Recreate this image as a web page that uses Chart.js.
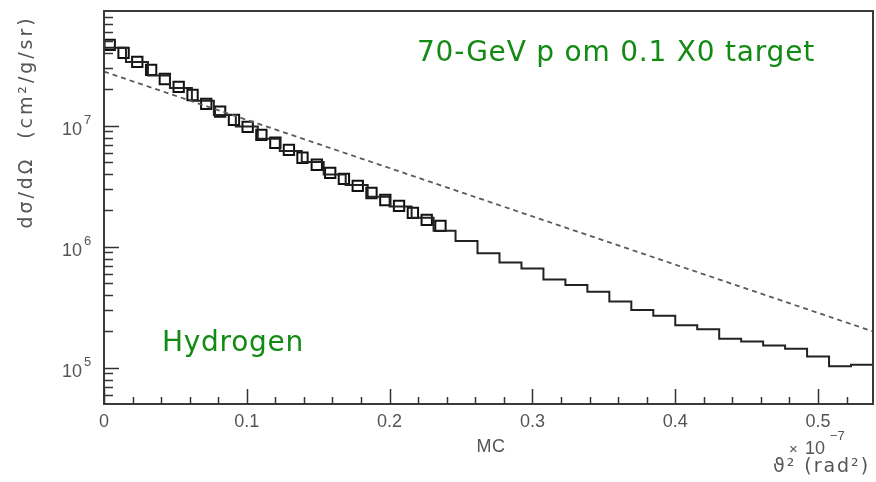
<!DOCTYPE html>
<html>
<head>
<meta charset="utf-8">
<script src="https://cdn.jsdelivr.net/npm/chart.js@4.4.1/dist/chart.umd.min.js"></script>
<style>
    html, body { margin: 0; padding: 0; background: #fff; }
    #chart { display: block; }
</style>
</head>
<body>
<canvas id="chart" width="876" height="482"></canvas>
<script>
// 軸の範囲
const X_MIN = 0;
const X_MAX = 0.5385;
const Y_MIN = 5.03e4;
const Y_MAX = 8.9e7;

// MC ヒストグラム (35 ビン, 左端から)
const BIN_COUNT = 35;
const mcValues = [
    4.42e7, 3.38e7, 2.61e7, 2.06e7, 1.61e7, 1.23e7, 9.9e6, 7.82e6, 6.21e6, 5.04e6,
    3.97e6, 3.25e6, 2.59e6, 2.16e6, 1.74e6, 1.36e6, 1.12e6, 8.87e5, 7.42e5, 6.62e5,
    5.37e5, 4.85e5, 4.25e5, 3.53e5, 3.01e5, 2.70e5, 2.25e5, 2.09e5, 1.74e5, 1.65e5,
    1.53e5, 1.44e5, 1.24e5, 1.03e5, 1.06e5
];

// 測定点 (四角)
const dataX = [
    0.004, 0.0137, 0.0233, 0.033, 0.0426, 0.0523, 0.062, 0.0716, 0.0813, 0.091,
    0.1006, 0.1102, 0.12, 0.1295, 0.139, 0.149, 0.1584, 0.168, 0.1777, 0.1873,
    0.197, 0.2066, 0.2163, 0.226, 0.2356
];
const dataY = [
    4.67e7, 4.01e7, 3.38e7, 2.90e7, 2.44e7, 2.10e7, 1.80e7, 1.52e7, 1.31e7, 1.12e7,
    9.8e6, 8.43e6, 7.25e6, 6.34e6, 5.45e6, 4.77e6, 4.09e6, 3.65e6, 3.19e6, 2.79e6,
    2.44e6, 2.18e6, 1.91e6, 1.67e6, 1.49e6
];

// 破線 (指数関数)
const fitX = [0, 0.5385];
const fitY = [2.81e7, 2.0e5];

// 目盛りラベル
const xTickValues = [0, 0.1, 0.2, 0.3, 0.4, 0.5];
const xTickLabels = ['0', '0.1', '0.2', '0.3', '0.4', '0.5'];
const yTickExponents = [5, 6, 7];

const GRAY = '#555';
const GREEN = '#138a13';

function histPoints() {
    const w = (X_MAX - X_MIN) / BIN_COUNT;
    const pts = mcValues.map((v, i) => ({ x: X_MIN + i * w, y: v }));
    pts.push({ x: X_MAX, y: mcValues[mcValues.length - 1] });
    return pts;
}

// 幅を合わせて文字を描く
function fitText(ctx, text, x, y, width, align) {
    ctx.save();
    ctx.letterSpacing = '0px';
    const base = ctx.measureText(text).width;
    if (base < width) {
        ctx.letterSpacing = ((width - base) / text.length).toFixed(2) + 'px';
        const w2 = ctx.measureText(text).width;
        const left = align === 'center' ? x - w2 / 2 : x;
        ctx.textAlign = 'left';
        ctx.fillText(text, left, y);
    } else {
        const left = align === 'center' ? x - width / 2 : x;
        ctx.translate(left, y);
        ctx.scale(width / base, 1);
        ctx.textAlign = 'left';
        ctx.fillText(text, 0, 0);
    }
    ctx.restore();
}

const rootFrame = {
    id: 'rootFrame',
    afterDatasetsDraw(chart) {
        const { ctx, chartArea: a } = chart;
        const xs = chart.scales.x;
        const ys = chart.scales.y;
        ctx.save();

        // 枠
        ctx.strokeStyle = '#3a3a3a';
        ctx.lineWidth = 2;
        ctx.strokeRect(a.left, a.top, a.right - a.left, a.bottom - a.top);

        // x 目盛り (内向き)
        ctx.lineWidth = 1.5;
        ctx.strokeStyle = '#333';
        for (let k = 0; k <= 26; k++) {
            const v = k * 0.02;
            const px = Math.round(xs.getPixelForValue(v)) + 0.5;
            const len = k % 5 === 0 ? 15 : 7;
            ctx.beginPath();
            ctx.moveTo(px, a.bottom);
            ctx.lineTo(px, a.bottom - len);
            ctx.stroke();
        }

        // y 目盛り (対数)
        for (let d = 4; d <= 7; d++) {
            for (let m = 1; m <= 9; m++) {
                const v = m * Math.pow(10, d);
                if (v < Y_MIN || v > Y_MAX) continue;
                const py = Math.round(ys.getPixelForValue(v)) + 0.5;
                const len = m === 1 ? 15 : 9;
                ctx.beginPath();
                ctx.moveTo(a.left, py);
                ctx.lineTo(a.left + len, py);
                ctx.stroke();
            }
        }

        // x ラベル
        ctx.fillStyle = GRAY;
        ctx.font = '18px "Liberation Sans"';
        ctx.textBaseline = 'middle';
        ctx.textAlign = 'center';
        xTickValues.forEach((v, i) => {
            ctx.fillText(xTickLabels[i], xs.getPixelForValue(v), 422);
        });

        // y ラベル 10^n
        yTickExponents.forEach(e => {
            const py = ys.getPixelForValue(Math.pow(10, e));
            ctx.font = '18px "Liberation Sans"';
            ctx.textAlign = 'right';
            ctx.textBaseline = 'alphabetic';
            ctx.fillText('10', 82, py + 9);
            ctx.font = '13px "Liberation Sans"';
            ctx.textAlign = 'left';
            ctx.fillText(String(e), 84, py - 2);
        });

        // 軸タイトル
        ctx.font = '18px "Liberation Sans"';
        ctx.textBaseline = 'middle';
        fitText(ctx, 'MC', 491, 447, 29, 'center');
        ctx.font = '15px "Liberation Sans"';
        ctx.textAlign = 'left';
        ctx.fillText('×', 789, 450);
        ctx.font = '18px "Liberation Sans"';
        ctx.fillText('10', 805, 449);
        ctx.font = '13px "Liberation Sans"';
        ctx.fillText('−7', 830, 436);
        ctx.font = '19px "DejaVu Sans"';
        fitText(ctx, 'ϑ² (rad²)', 773, 467, 97, 'left');

        ctx.save();
        ctx.translate(27, 122);
        ctx.rotate(-Math.PI / 2);
        ctx.font = '19px "DejaVu Sans"';
        fitText(ctx, 'dσ/dΩ  (cm²/g/sr)', 0, 0, 213, 'center');
        ctx.restore();

        // 緑の注記
        ctx.fillStyle = GREEN;
        ctx.textBaseline = 'alphabetic';
        ctx.font = '28px "DejaVu Sans"';
        fitText(ctx, '70-GeV p om 0.1 X0 target', 417, 61, 398, 'left');
        fitText(ctx, 'Hydrogen', 162, 351, 142, 'left');

        ctx.restore();
    }
};

new Chart(document.getElementById('chart'), {
    type: 'line',
    data: {
        datasets: [
            {
                label: 'fit',
                data: fitX.map((x, i) => ({ x, y: fitY[i] })),
                borderColor: '#5a5a5a',
                borderWidth: 1.8,
                borderDash: [5, 4],
                pointRadius: 0,
                fill: false,
            },
            {
                label: 'MC',
                data: histPoints(),
                borderColor: '#222',
                borderWidth: 2,
                stepped: 'before',
                pointRadius: 0,
                fill: false,
            },
            {
                label: 'data',
                data: dataX.map((x, i) => ({ x, y: dataY[i] })),
                showLine: false,
                pointStyle: 'rect',
                pointRadius: 7.3,
                borderColor: '#111',
                borderWidth: 2,
                backgroundColor: 'rgba(0,0,0,0)',
            },
        ]
    },
    options: {
        responsive: false,
        animation: false,
        events: [],
        layout: { autoPadding: false, padding: { top: 11, right: 3, left: 0, bottom: 0 } },
        plugins: { legend: { display: false }, tooltip: { enabled: false } },
        scales: {
            x: {
                type: 'linear',
                min: X_MIN,
                max: X_MAX,
                grid: { display: false },
                border: { display: false },
                ticks: { display: false },
                afterFit: s => { s.height = 78; s.paddingLeft = 0; s.paddingRight = 0; },
            },
            y: {
                type: 'logarithmic',
                min: Y_MIN,
                max: Y_MAX,
                grid: { display: false },
                border: { display: false },
                ticks: { display: false },
                afterFit: s => { s.width = 104; s.paddingTop = 0; s.paddingBottom = 0; },
            },
        },
    },
    plugins: [rootFrame],
});
</script>
</body>
</html>
